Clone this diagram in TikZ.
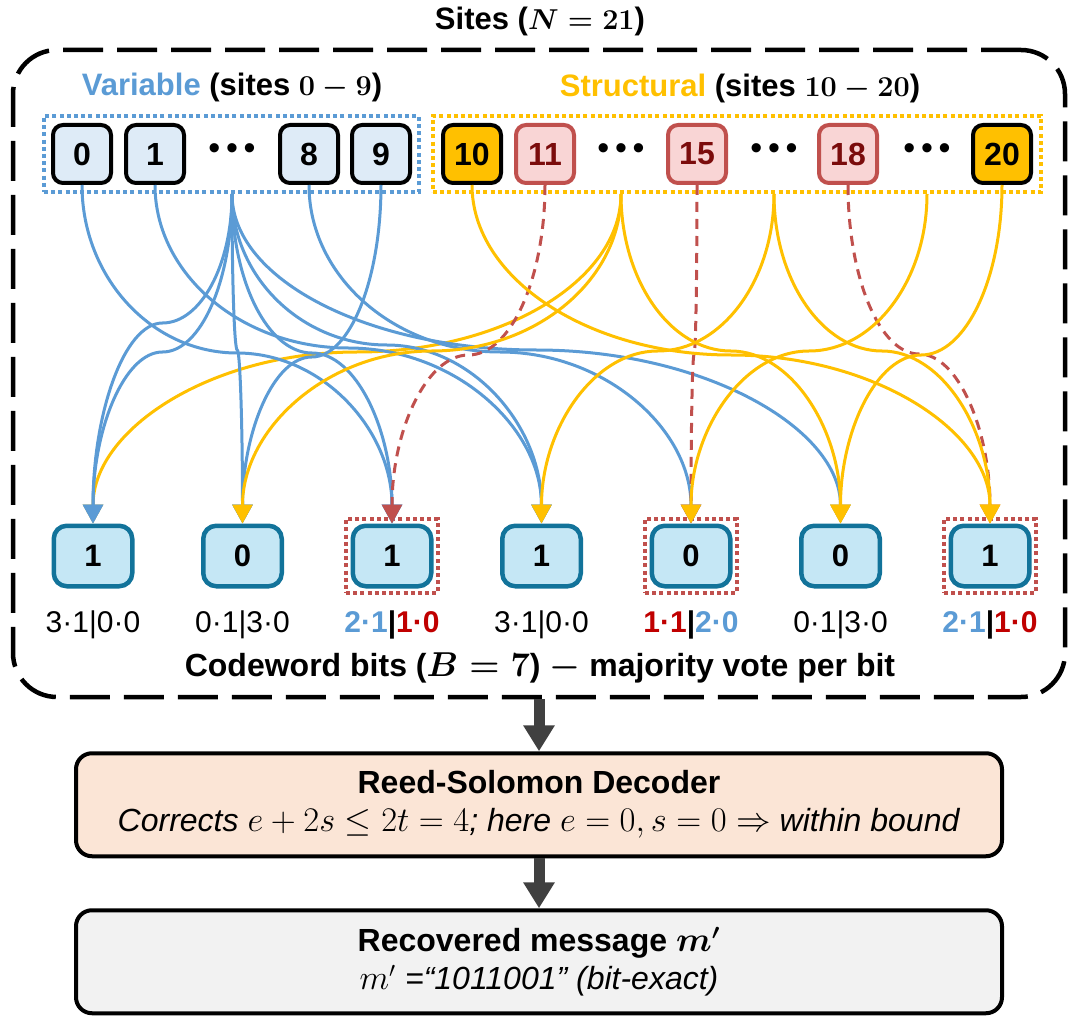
\documentclass[tikz,border=0pt]{standalone}
\usepackage{amsmath}
\usepackage[no-math]{fontspec}
\setmainfont{Liberation Sans}
\usetikzlibrary{arrows.meta,calc,fit,positioning}

\definecolor{varblue}{HTML}{5B9BD5}
\definecolor{strgold}{HTML}{FFC000}
\definecolor{badred}{HTML}{C0504D}
\definecolor{votered}{HTML}{C00000}
\definecolor{badtext}{HTML}{7B0C0C}
\definecolor{varfill}{HTML}{DEEBF7}
\definecolor{badfill}{HTML}{F9D5D5}
\definecolor{bitfill}{HTML}{C5E7F5}
\definecolor{bitline}{HTML}{12739A}
\definecolor{decfill}{HTML}{FBE5D6}
\definecolor{recfill}{HTML}{F2F2F2}
\definecolor{flowgray}{HTML}{404040}

% one vote: down from the site, level out at row #4, then down into the bit
\newcommand\vote[4][]{%
  \coordinate (vx) at ($(#2)!.5!(#3)$);
  \coordinate (vy) at (0,#4);
  \coordinate (vm) at (vx |- vy);
  \draw[#1] (#2) .. controls ($(#2)!.55!(#2|-vm)$) and ($(vm)!.55!(#2|-vm)$) .. (vm)
    .. controls ($(vm)!.55!(#3|-vm)$) and ($(#3)!.55!(#3|-vm)$) .. (#3);}

\begin{document}
\begin{tikzpicture}[
    x=0.5pt, y=-0.5pt,
    frame/.style={draw, line width=2.25pt, dash pattern=on 20pt off 7pt, rounded corners=22pt, inner sep=0pt},
    group/.style={draw, line width=2pt, dash pattern=on 2pt off 1.6pt, inner sep=3.5pt},
    site/.style={draw, line width=2pt, rounded corners=5pt, minimum width=29pt, minimum height=29pt, inner sep=0pt, font=\fontsize{16}{16}\selectfont\bfseries},
    varsite/.style={site, fill=varfill},
    strsite/.style={site, fill=strgold},
    badsite/.style={site, draw=badred, fill=badfill, text=badtext},
    gap/.style={font=\fontsize{17}{17}\selectfont},
    bit/.style={draw=bitline, fill=bitfill, line width=2.25pt, rounded corners=6.5pt, minimum width=39.25pt, minimum height=30.25pt, inner sep=0pt, font=\fontsize{15.5}{15.5}\selectfont\bfseries},
    flag/.style={draw=badred, line width=2pt, dash pattern=on 2pt off 1.6pt, inner sep=2.25pt},
    tally/.style={inner sep=0pt, font=\fontsize{15}{15}\selectfont},
    heading/.style={font=\fontsize{15.5}{18}\selectfont\bfseries\boldmath},
    link/.style={line width=1.5pt, -{Triangle[width=10pt,length=9.5pt]}},
    blink/.style={link, varblue},
    ylink/.style={link, strgold},
    rlink/.style={link, badred, dash pattern=on 5pt off 3.5pt},
    stage/.style={draw, line width=2pt, rounded corners=8pt, minimum width=463pt, minimum height=51.5pt, align=center, font=\fontsize{16}{19}\selectfont},
    flow/.style={flowgray, line width=5.5pt, -{Triangle[width=15pt,length=13pt]}},
  ]
  \useasboundingbox (0,0) rectangle (1077,1027);

  % outer frame and titles
  \node (frame) [frame, fit={(13,50) (1065,697)}] {};
  \node (title) [heading] at (540,21) {Sites ($N=21$)};
  \node (varlab) [heading] at (232,87) {\textcolor{varblue}{Variable} (sites $0-9$)};
  \node (strlab) [heading] at (740,88) {\textcolor{strgold}{Structural} (sites $10-20$)};

  % sites
  \foreach \n/\x in {0/82, 1/155, 8/309, 9/381}
    \node (s\n) [varsite] at (\x,154) {\n};
  \node (s10) [strsite] at (472,154) {10};
  \node (s11) [badsite] at (545,154) {11};
  \node (s15) [badsite] at (697,154) {15};
  \node (s18) [badsite] at (848,154) {18};
  \node (s20) [strsite] at (1002,154) {20};
  \node (dA) [gap] at (232,152) {•\,•\,•};
  \node (dB) [gap] at (621,152) {•\,•\,•};
  \node (dC) [gap] at (774,152) {•\,•\,•};
  \node (dD) [gap] at (927,152) {•\,•\,•};

  \node (varbox) [group, varblue, fit=(s0)(s9)] {};
  \node (strbox) [group, strgold, inner xsep=4pt, fit=(s10)(s20)] {};
  \coordinate (hA) at (dA |- varbox.south);
  \coordinate (hB) at (dB |- strbox.south);
  \coordinate (hC) at (dC |- strbox.south);
  \coordinate (hD) at (dD |- strbox.south);

  % codeword bits
  \foreach \i/\v in {1/1,2/0,3/1,4/1,5/0,6/0,7/1}
    \node (b\i) [bit] at ({93+149.5*(\i-1)},556) {\v};
  \foreach \i in {3,5,7}
    \node (f\i) [flag, fit=(b\i)] {};
  \foreach \i/\lab in {1/3·1|0·0, 2/0·1|3·0, 4/3·1|0·0, 6/0·1|3·0,
      3/\bfseries\textcolor{varblue}{2·1}|\textcolor{votered}{1·0},
      5/\bfseries\textcolor{votered}{1·1}|\textcolor{varblue}{2·0},
      7/\bfseries\textcolor{varblue}{2·1}|\textcolor{votered}{1·0}}
    \node (t\i) [tally, below=11pt of b\i] {\lab};
  \node (cwcap) [heading, font=\fontsize{16}{18}\selectfont\bfseries\boldmath] at (540,668)
    {Codeword bits ($B=7$) $-$ majority vote per bit};

  % votes
  \vote[ylink]{hB}{b1.north}{352}
  \vote[blink]{hA}{b1.north}{323}
  \vote[blink]{hA}{b1.north}{352}
  \vote[blink]{hA}{b2.north}{350}
  \vote[blink]{s9.south}{b2.north}{357}
  \vote[blink]{s0.south}{b3.north}{353}
  \vote[blink]{hA}{b3.north}{353}
  \vote[blink]{s1.south}{b4.north}{348}
  \vote[blink]{hA}{b4.north}{345}
  \vote[blink]{s8.south}{b5.north}{352}
  \vote[blink]{hA}{b6.north}{350}
  \vote[rlink]{s11.south}{b3.north}{355}
  \vote[rlink]{s15.south}{b5.north}{355}
  \vote[rlink]{s18.south}{b7.north}{354}
  \vote[ylink]{hB}{b2.north}{351}
  \vote[ylink]{hC}{b4.north}{351}
  \vote[ylink]{hD}{b5.north}{351}
  \vote[ylink]{hB}{b6.north}{351}
  \vote[ylink]{s20.south}{b6.north}{355}
  \vote[ylink]{s10.south}{b7.north}{355}
  \vote[ylink]{hC}{b7.north}{351}

  % decoding
  \node (decoder) [stage, fill=decfill, below=26pt of frame]
    {\textbf{Reed-Solomon Decoder}\\\textit{Corrects $e+2s\le 2t=4$; here $e=0, s=0\Rightarrow$ within bound}};
  \node (recovered) [stage, fill=recfill, below=25pt of decoder]
    {\textbf{Recovered message {\boldmath$m'$}}\\\textit{$m'$ =“1011001” (bit-exact)}};
  \draw[flow] (frame) -- (decoder);
  \draw[flow] (decoder) -- (recovered);
\end{tikzpicture}
\end{document}
